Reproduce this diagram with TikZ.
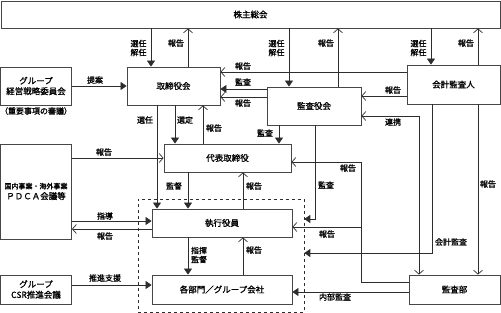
\documentclass[tikz,border=0pt]{standalone}
\usepackage{fontspec}
\setmainfont{Noto Sans CJK JP}[FakeBold=1.2]
\usetikzlibrary{arrows.meta,positioning}
\definecolor{wire}{RGB}{45,45,45}
\definecolor{edge}{RGB}{70,70,70}
\tikzset{
  >={Triangle[length=6pt,width=8pt]},
  box/.style n args={2}{draw=edge,line width=0.8pt,fill=white,align=center,
    inner sep=1pt,minimum width=#1pt,minimum height=#2pt,
    font=\fontsize{8.5}{10.5}\selectfont},
  grp/.style={draw=wire,dashed,line width=0.6pt,minimum width=166pt,minimum height=113pt},
  ord/.style={draw=wire,line width=0.7pt,->},
  rep/.style={draw=wire,line width=0.7pt,-{Straight Barb[length=4pt,width=9pt]}},
  rep both/.style={draw=wire,line width=0.7pt,
    {Straight Barb[length=4pt,width=9pt]}-{Straight Barb[length=4pt,width=9pt]}},
  lbl/.style={font=\fontsize{8}{9}\selectfont,inner sep=0pt,align=center},
}

\begin{document}
\begin{tikzpicture}[x=1pt,y=-1pt]
  \useasboundingbox (0,0) rectangle (501,313);
  % boxes
  \node[grp] (exec) at (221,255.5) {};
  \node[box={499}{27}] (sh) at (250.5,14.5) {株主総会};
  \node[box={71}{38}] (gk) at (36,86) {グループ\\経営戦略委員会};
  \node[lbl] (gknote) at (36,111) {（重要事項の審議）};
  \node[box={93}{38}] (bd) at (173.5,86) {取締役会};
  \node[box={94}{38}] (kg) at (314,106) {監査役会};
  \node[box={93}{39}] (ca) at (453.5,84.5) {会計監査人};
  \node[box={127}{28}] (ceo) at (227.5,158) {代表取締役};
  \node[box={71}{95}] (pdca) at (36,191.5) {{\fontsize{7}{8}\selectfont 国内事業・海外事業}\\ＰＤＣＡ会議等};
  \node[box={140}{28}] (ex) at (222,223) {執行役員};
  \node[box={140}{29}] (dept) at (222,289.5) {各部門／グループ会社};
  \node[box={71}{29}] (csr) at (36,289.5) {グループ\\CSR推進会議};
  \node[box={91}{29}] (ia) at (454.5,289.5) {監査部};
  \coordinate (bend) at (361,282);
  \coordinate (tap) at (361,227);
  % shareholders
  \foreach \n/\a/\b in {bd/151/188,kg/289/338,ca/431/478}{
    \draw[ord] (sh.south -| \a,0) -- (\n.north -| \a,0);
    \draw[rep] (\n.north -| \b,0) -- (sh.south -| \b,0);
    \node[lbl] (sel\n) at (\a-12.5,48) {選任\\解任};
    \node[lbl] (up\n) at (\b-12,43) {報告};
  }
  % left side
  \draw[ord] (gk.east) -- (bd.west);
  \node[lbl] (prop) at (95,80) {提案};
  \draw[rep] (pdca.east |- ceo.west) -- (ceo.west);
  \node[lbl] (pdcarep) at (104,152) {報告};
  \draw[ord] (pdca.east |- 0,221) -- (ex.west |- 0,221);
  \node[lbl] (guide) at (105,216) {指導};
  \draw[rep] (ex.west |- 0,229) -- (pdca.east |- 0,229);
  \node[lbl] (exrep) at (105,236) {報告};
  \draw[ord] (csr.east |- 0,285) -- (dept.west |- 0,285);
  \node[lbl] (support) at (105,278) {推進支援};
  % board and executives
  \draw[ord] (bd.south -| 157,0) -- (ex.north -| 157,0);
  \node[lbl] (appoint) at (145,120) {選任};
  \draw[ord] (bd.south -| 175,0) -- (ceo.north -| 175,0);
  \node[lbl] (choose) at (185,120) {選定};
  \draw[rep] (ceo.north -| 203,0) -- (bd.south -| 203,0);
  \node[lbl] (ceorep) at (214,128) {報告};
  \draw[ord] (ceo.south -| 188,0) -- (ex.north -| 188,0);
  \node[lbl] (superv) at (174,186) {監督};
  \draw[rep] (ex.north -| 243,0) -- (ceo.south -| 243,0);
  \node[lbl] (exup) at (254,186) {報告};
  \draw[ord] (ex.south -| 188,0) -- (dept.north -| 188,0);
  \node[lbl] (command) at (199,255) {指揮\\監督};
  \draw[rep] (dept.north -| 243,0) -- (ex.south -| 243,0);
  \node[lbl] (deptup) at (254,250) {報告};
  % auditors
  \draw[rep] (ca.west |- 0,72) -- (bd.east |- 0,72);
  \node[lbl] (carep) at (243,66) {報告};
  \draw[ord] (kg.west |- 0,89) -- (bd.east |- 0,89);
  \node[lbl] (kgaud) at (243,82) {監査};
  \draw[rep] (kg.west |- 0,97) -- (bd.east |- 0,97);
  \node[lbl] (kgrep) at (243,103) {報告};
  \draw[ord] (kg.south -| 279,0) -- (ceo.north -| 279,0);
  \node[lbl] (kgceo) at (265,133) {監査};
  \draw[rep] (ca.west |- 0,96) -- (kg.east |- 0,96);
  \node[lbl] (cakg) at (393,90) {報告};
  \draw[rep both] (kg.east |- 0,116) -| (ia.north -| 419,0);
  \node[lbl] (link) at (393,122) {連携};
  \draw[ord] (kg.south -| 315,0) |- (exec.east |- 0,219);
  \node[lbl] (kgex) at (326,185) {監査};
  \draw[ord] (ca.south -| 432,0) |- (exec.east |- 0,253);
  \node[lbl] (acct) at (451,242) {会計監査};
  \draw[rep] (ca.south -| 478,0) -- (ia.north -| 478,0);
  \node[lbl] (caia) at (488,184) {報告};
  \draw[ord] (ia.west |- 0,292) -- (dept.east |- 0,292);
  \node[lbl] (internal) at (335,297) {内部監査};
  \draw[rep] (ia.west |- bend) -- (bend) |- (ceo.east |- 0,162);
  \node[lbl] (iaceo) at (348,168) {報告};
  \draw[rep] (tap) -- (ex.east |- tap);
  \node[lbl] (iaex) at (327,234) {報告};
\end{tikzpicture}
\end{document}
